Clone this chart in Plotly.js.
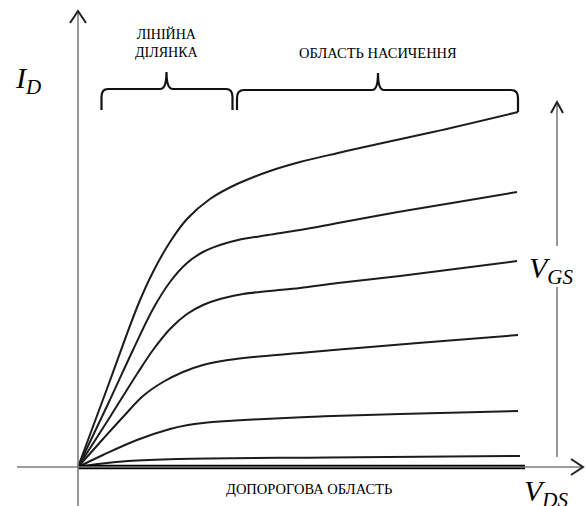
<!DOCTYPE html>
<html><head><meta charset="utf-8">
<script src="https://cdn.plot.ly/plotly-3.0.1.min.js"></script>
<style>html,body{margin:0;padding:0;background:#fff}#chart{width:587px;height:506px}</style>
</head><body><div id="chart"></div>
<script>
// Output characteristics (arbitrary units: V_DS horizontal, I_D vertical)
const vds1 = [0, 30, 60, 75, 92, 109, 132, 159, 192, 222, 260, 300, 355, 440];
const id1  = [0, 81, 162, 195, 225, 248, 268, 283, 296, 305, 314, 323, 335, 355];
const vds2 = [0, 30, 55, 75, 92, 109, 125, 142, 160, 190, 222, 260, 320, 380, 439];
const id2  = [0, 63, 117, 158, 185, 204, 215, 222, 227, 232, 237, 244, 255, 265, 275];
const vds3 = [0, 32, 59, 75, 92, 109, 125, 142, 165, 192, 222, 260, 322, 439];
const id3  = [0, 50, 93, 117, 138, 153, 162, 168, 173, 176, 179, 184, 191, 206];
const vds4 = [0, 25, 45, 65, 85, 105, 125, 150, 175, 222, 280, 340, 440];
const id4  = [0, 28, 50, 71, 85, 95, 102, 107, 110, 114, 119, 124, 132];
const vds5 = [0, 25, 59, 92, 110, 125, 150, 175, 242, 322, 440];
const id5  = [0, 12, 27, 38, 42, 44, 46, 47.5, 50.5, 53, 56];
const vds6 = [0, 20, 50, 100, 250, 442];
const id6  = [0, 3, 6, 8, 9.5, 11];
const vds7 = [0, 447];          // subthreshold (≈ zero current)
const id7  = [0, 0];

const regionLabels = ["ЛІНІЙНА<br>ДІЛЯНКА", "ОБЛАСТЬ НАСИЧЕННЯ", "ДОПОРОГОВА ОБЛАСТЬ"];
const axisLabels = ["<i>I</i><sub><i>D</i></sub>", "<i>V</i><sub><i>DS</i></sub>", "<i>V</i><sub><i>GS</i></sub>"];

const curveColor = "#1c1c1c";
const serif = "'Liberation Serif', 'Times New Roman', serif";

const curves = [[vds1,id1],[vds2,id2],[vds3,id3],[vds4,id4],[vds5,id5],[vds6,id6]];
const traces = curves.map(([x,y]) => ({
  x: x, y: y, type: "scatter", mode: "lines",
  line: {color: curveColor, width: 2, shape: "spline", smoothing: 1},
  hoverinfo: "skip"
}));
traces.push({x: vds7, y: id7, type: "scatter", mode: "lines",
  line: {color: "#000", width: 4.5}, hoverinfo: "skip"});

// helper: pixel position in the 587x506 frame -> axis units (origin at 78,467)
const P = (px, py) => (px - 78) + "," + (467 - py);

const axisCol = "#7d7d7d";
const shapes = [
  {type:"line", x0:-61, y0:0, x1:505, y1:0, line:{color:axisCol, width:1.6}},
  {type:"path", path:"M"+P(571,459)+" L"+P(583,467)+" L"+P(571,475), line:{color:"#222", width:2}},
  {type:"line", x0:0, y0:-40, x1:0, y1:455, line:{color:axisCol, width:1.6}},
  {type:"path", path:"M"+P(70,23)+" L"+P(78,11)+" L"+P(86,23), line:{color:"#222", width:2}},
  {type:"line", x0:479, y0:10, x1:479, y1:180, line:{color:axisCol, width:1.6}},
  {type:"line", x0:479, y0:221, x1:479, y1:364, line:{color:axisCol, width:1.6}},
  {type:"path", path:"M"+P(551,113)+" L"+P(557,102)+" L"+P(563,113), line:{color:"#222", width:2}},
  {type:"path", path:"M"+P(101.5,110)+" L"+P(101.5,97)+" Q"+P(101.5,89)+" "+P(108,89)+
     " L"+P(160,89)+" Q"+P(166.5,89)+" "+P(166.5,72)+" Q"+P(166.5,89)+" "+P(173,89)+
     " L"+P(226,89)+" Q"+P(232.5,89)+" "+P(232.5,97)+" L"+P(232.5,110), line:{color:"#111", width:2.2}},
  {type:"path", path:"M"+P(237,110)+" L"+P(237,98)+" Q"+P(237,90)+" "+P(244,90)+
     " L"+P(372,90)+" Q"+P(378,90)+" "+P(378,73)+" Q"+P(378,90)+" "+P(384,90)+
     " L"+P(511,90)+" Q"+P(518,90)+" "+P(518,98)+" L"+P(518,112), line:{color:"#111", width:2.2}}
];

const ann = (txt, x, y, size) => ({text: txt, x: x, y: y, xref:"x", yref:"y", showarrow:false,
  font:{family: serif, size: size, color:"#000"}, xanchor:"center", yanchor:"middle"});

const annotations = [
  ann(regionLabels[0], 88, 424, 14),
  ann(regionLabels[1], 300, 414, 14.5),
  ann(regionLabels[2], 231, -22, 14.5),
  ann(axisLabels[0], -50, 387, 30),
  ann(axisLabels[1], 468, -26, 30),
  ann(axisLabels[2], 473, 197, 30)
];

const layout = {
  width: 587, height: 506,
  margin: {l:0, r:0, t:0, b:0},
  paper_bgcolor: "#fff", plot_bgcolor: "#fff",
  showlegend: false,
  font: {family: serif},
  xaxis: {range: [-78, 509], visible: false, fixedrange: true},
  yaxis: {range: [-39, 467], visible: false, fixedrange: true},
  shapes: shapes, annotations: annotations
};

Plotly.newPlot("chart", traces, layout, {staticPlot: true, displayModeBar: false});
</script>
</body></html>
